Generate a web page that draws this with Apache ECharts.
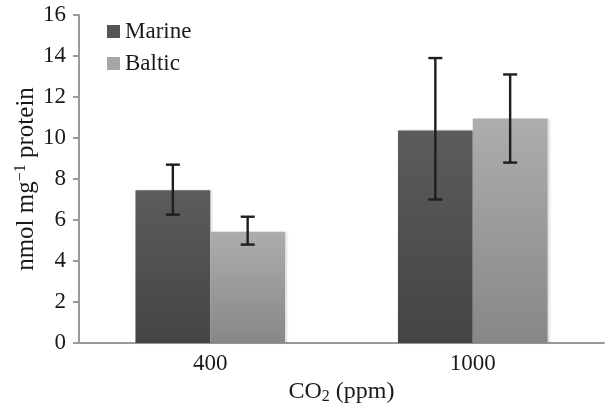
<!DOCTYPE html>
<html>
<head>
<meta charset="utf-8">
<script src="https://cdn.jsdelivr.net/npm/echarts@6/dist/echarts.min.js"></script>
<style>
  html, body { margin: 0; padding: 0; background: #fff; }
  #chart { width: 606px; height: 412px; }
</style>
</head>
<body>
<div id="chart"></div>
<script>
const categories = ['400', '1000']
const marine = [7.45, 10.37]
const baltic = [5.43, 10.95]
// error bar ends [low, high]
const marineErr = [[6.26, 8.7], [7.0, 13.9]]
const balticErr = [[4.8, 6.16], [8.8, 13.1]]

const FONT = 'Liberation Serif'
const CAT_GAP = 0.43

const chart = echarts.init(document.getElementById('chart'))

function errorSeries(name, errs, side) {
  return {
    name: name + ' err',
    type: 'custom',
    z: 5,
    data: errs.map((e, i) => [i, e[0], e[1]]),
    renderItem(params, api) {
      const catW = api.size([1, 0])[0]
      const barW = catW * (1 - CAT_GAP) / 2
      const lo = api.coord([api.value(0), api.value(1)])
      const hi = api.coord([api.value(0), api.value(2)])
      const x = lo[0] + side * barW / 2
      const cap = 7
      const style = { stroke: '#1e1e1e', lineWidth: 2.4 }
      return {
        type: 'group',
        children: [
          { type: 'line', shape: { x1: x, y1: lo[1], x2: x, y2: hi[1] }, style },
          { type: 'line', shape: { x1: x - cap, y1: lo[1], x2: x + cap, y2: lo[1] }, style },
          { type: 'line', shape: { x1: x - cap, y1: hi[1], x2: x + cap, y2: hi[1] }, style }
        ]
      }
    }
  }
}

function grad(top, bottom) {
  return new echarts.graphic.LinearGradient(0, 0, 0, 1, [
    { offset: 0, color: top },
    { offset: 1, color: bottom }
  ])
}

chart.setOption({
  animation: false,
  textStyle: { fontFamily: FONT },
  grid: { left: 79, right: 2, top: 15, bottom: 69 },
  legend: {
    orient: 'vertical',
    left: 102,
    top: 15,
    itemWidth: 13,
    itemHeight: 13,
    itemGap: 9,
    icon: 'rect',
    data: [
      { name: 'Marine', itemStyle: { color: '#555' } },
      { name: 'Baltic', itemStyle: { color: '#a6a6a6' } }
    ],
    textStyle: { fontFamily: FONT, fontSize: 23, lineHeight: 23, color: '#1a1a1a' }
  },
  xAxis: {
    type: 'category',
    data: categories,
    name: '{n|CO}{s|2}{n| (ppm)}',
    nameLocation: 'middle',
    nameGap: 34,
    nameTextStyle: {
      rich: {
        n: { fontFamily: FONT, fontSize: 24, color: '#1a1a1a' },
        s: { fontFamily: FONT, fontSize: 16, color: '#1a1a1a', verticalAlign: 'bottom', padding: [10, 0, 0, 0] }
      }
    },
    axisLine: { lineStyle: { color: '#9a9a9a', width: 2 } },
    axisTick: { alignWithLabel: false, length: 6, lineStyle: { color: '#9a9a9a', width: 2 } },
    axisLabel: { fontFamily: FONT, fontSize: 23, color: '#1a1a1a', margin: 9 }
  },
  yAxis: {
    type: 'value',
    min: 0,
    max: 16,
    interval: 2,
    name: '{n|nmol mg}{s|−1}{n| protein}',
    nameLocation: 'middle',
    nameGap: 40,
    nameMoveOverlap: false,
    nameTextStyle: {
      rich: {
        n: { fontFamily: FONT, fontSize: 25, color: '#1a1a1a' },
        s: { fontFamily: FONT, fontSize: 16, color: '#1a1a1a', verticalAlign: 'top', padding: [0, 0, 10, 0] }
      }
    },
    axisLine: { show: true, lineStyle: { color: '#9a9a9a', width: 2 } },
    axisTick: { show: true, length: 6, lineStyle: { color: '#9a9a9a', width: 2 } },
    splitLine: { show: false },
    axisLabel: { fontFamily: FONT, fontSize: 23, color: '#1a1a1a', margin: 13 }
  },
  series: [
    {
      name: 'Marine',
      type: 'bar',
      data: marine,
      barGap: '0%',
      barCategoryGap: (CAT_GAP * 100) + '%',
      itemStyle: {
        color: grad('#5c5c5c', '#444444'),
        shadowColor: 'rgba(0,0,0,0.12)',
        shadowOffsetX: 2,
        shadowBlur: 2
      }
    },
    {
      name: 'Baltic',
      type: 'bar',
      data: baltic,
      itemStyle: {
        color: grad('#adadad', '#878787'),
        shadowColor: 'rgba(0,0,0,0.12)',
        shadowOffsetX: 2,
        shadowBlur: 2
      }
    },
    errorSeries('Marine', marineErr, -1),
    errorSeries('Baltic', balticErr, 1)
  ]
})
</script>
</body>
</html>
